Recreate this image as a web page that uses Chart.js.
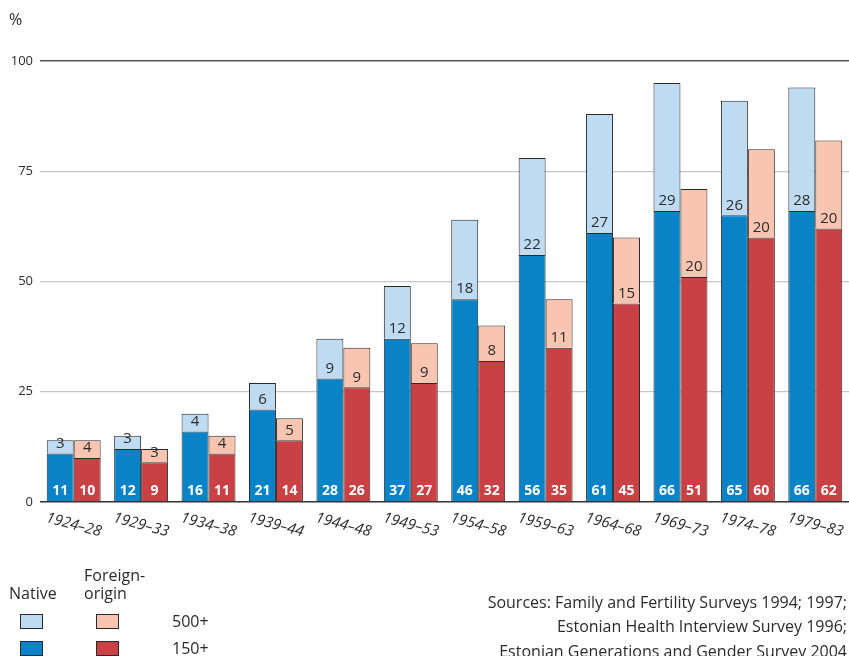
<!DOCTYPE html>
<html>
<head>
<meta charset="utf-8">
<script src="https://cdn.jsdelivr.net/npm/chart.js@4"></script>
<style>
html,body{margin:0;padding:0;background:#fff;}
#wrap{width:849px;height:656px;position:relative;}
</style>
</head>
<body>
<div id="wrap"><canvas id="c" width="849" height="656"></canvas></div>
<script>
const categories = ['1924–28','1929–33','1934–38','1939–44','1944–48','1949–53','1954–58','1959–63','1964–68','1969–73','1974–78','1979–83'];
const native150 = [11,12,16,21,28,37,46,56,61,66,65,66];
const native500 = [3,3,4,6,9,12,18,22,27,29,26,28];
const foreign150 = [10,9,11,14,26,27,32,35,45,51,60,62];
const foreign500 = [4,3,4,5,9,9,8,11,15,20,20,20];
const yTicks = [0,25,50,75,100];
const sourceLines = ['Sources: Family and Fertility Surveys 1994; 1997;','Estonian Health Interview Survey 1996;','Estonian Generations and Gender Survey 2004'];

const C = {nb:'#0983c8', lb:'#bedbf1', red:'#c94145', pink:'#f9c5b0', border:'#2a2a2a', text:'#2b2b2b'};
const FONT = '"Open Sans", "DejaVu Sans", sans-serif';

const customDraw = {
  id:'customDraw',
  afterDatasetsDraw(chart){
    const ctx = chart.ctx;
    ctx.save();
    ctx.textAlign='center'; ctx.textBaseline='middle';
    chart.data.datasets.forEach((ds, di) => {
      const meta = chart.getDatasetMeta(di);
      meta.data.forEach((bar, i) => {
        const v = ds.data[i];
        if (ds.level === '150') {
          ctx.fillStyle = '#fff';
          ctx.font = 'bold 14px ' + FONT;
          ctx.fillText(String(v), bar.x, bar.base - 10);
        } else {
          ctx.fillStyle = C.text;
          ctx.font = '15px ' + FONT;
          ctx.fillText(String(v), bar.x, bar.base - 10);
        }
      });
    });
    ctx.restore();
  },
  afterDraw(chart){
    const ctx = chart.ctx;
    const x = chart.scales.x, y = chart.scales.y;
    ctx.save();
    // x labels rotated
    ctx.fillStyle = C.text;
    ctx.font = 'italic 15px ' + FONT;
    ctx.textAlign='center'; ctx.textBaseline='middle';
    categories.forEach((lab, i) => {
      const px = x.getPixelForValue(i);
      ctx.save();
      ctx.translate(px, y.getPixelForValue(0) + 23);
      ctx.rotate(15 * Math.PI/180);
      ctx.fillText(lab, 0, 0);
      ctx.restore();
    });
    // percent sign
    ctx.textAlign='left';
    ctx.font = '16px ' + FONT;
    ctx.fillText('%', 9, 20);
    // legend
    ctx.fillText('Native', 9, 594);
    ctx.fillText('Foreign-', 84, 576);
    ctx.fillText('origin', 84, 594);
    ctx.fillText('500+', 172, 622);
    ctx.fillText('150+', 172, 649);
    const boxes = [[20,614,C.lb],[96,614,C.pink],[20,641,C.nb],[96,641,C.red]];
    boxes.forEach(b => {
      ctx.fillStyle = b[2];
      ctx.fillRect(b[0], b[1], 23, 15);
      ctx.strokeStyle = C.border; ctx.lineWidth = 1;
      ctx.strokeRect(b[0]+0.5, b[1]+0.5, 22, 14);
    });
    // sources
    ctx.fillStyle = C.text;
    ctx.textAlign='right';
    ctx.font = '16px ' + FONT;
    sourceLines.forEach((s, i) => ctx.fillText(s, 847, 603 + i*24.5));
    ctx.restore();
  }
};

new Chart(document.getElementById('c'), {
  type:'bar',
  data:{
    labels: categories,
    datasets:[
      {label:'Native 150+', data: native150, stack:'native', level:'150', backgroundColor:C.nb, borderColor:C.border, borderWidth:1},
      {label:'Native 500+', data: native500, stack:'native', level:'500', backgroundColor:C.lb, borderColor:C.border, borderWidth:1},
      {label:'Foreign-origin 150+', data: foreign150, stack:'foreign', level:'150', backgroundColor:C.red, borderColor:C.border, borderWidth:1},
      {label:'Foreign-origin 500+', data: foreign500, stack:'foreign', level:'500', backgroundColor:C.pink, borderColor:C.border, borderWidth:1}
    ]
  },
  options:{
    responsive:false,
    animation:false,
    layout:{padding:{top:61, right:0, left:0, bottom:0}},
    plugins:{legend:{display:false}, tooltip:{enabled:false}},
    datasets:{bar:{categoryPercentage:0.8, barPercentage:1.0}},
    scales:{
      x:{
        stacked:true,
        grid:{display:false},
        border:{display:false},
        ticks:{display:false},
        afterFit(s){ s.height = 154; }
      },
      y:{
        stacked:true,
        min:0, max:100,
        afterBuildTicks(s){ s.ticks = yTicks.map(v => ({value:v})); },
        afterFit(s){ s.width = 40; },
        border:{display:false},
        grid:{
          drawTicks:false,
          color:(c)=> c.tick.value===0 ? '#333' : (c.tick.value===100 ? '#555' : '#c8c8c8'),
          lineWidth:(c)=> (c.tick.value===0 || c.tick.value===100) ? 1.5 : 1.2
        },
        ticks:{color:C.text, padding:7, font:{size:13, family:FONT}}
      }
    }
  },
  plugins:[customDraw]
});
</script>
</body>
</html>
